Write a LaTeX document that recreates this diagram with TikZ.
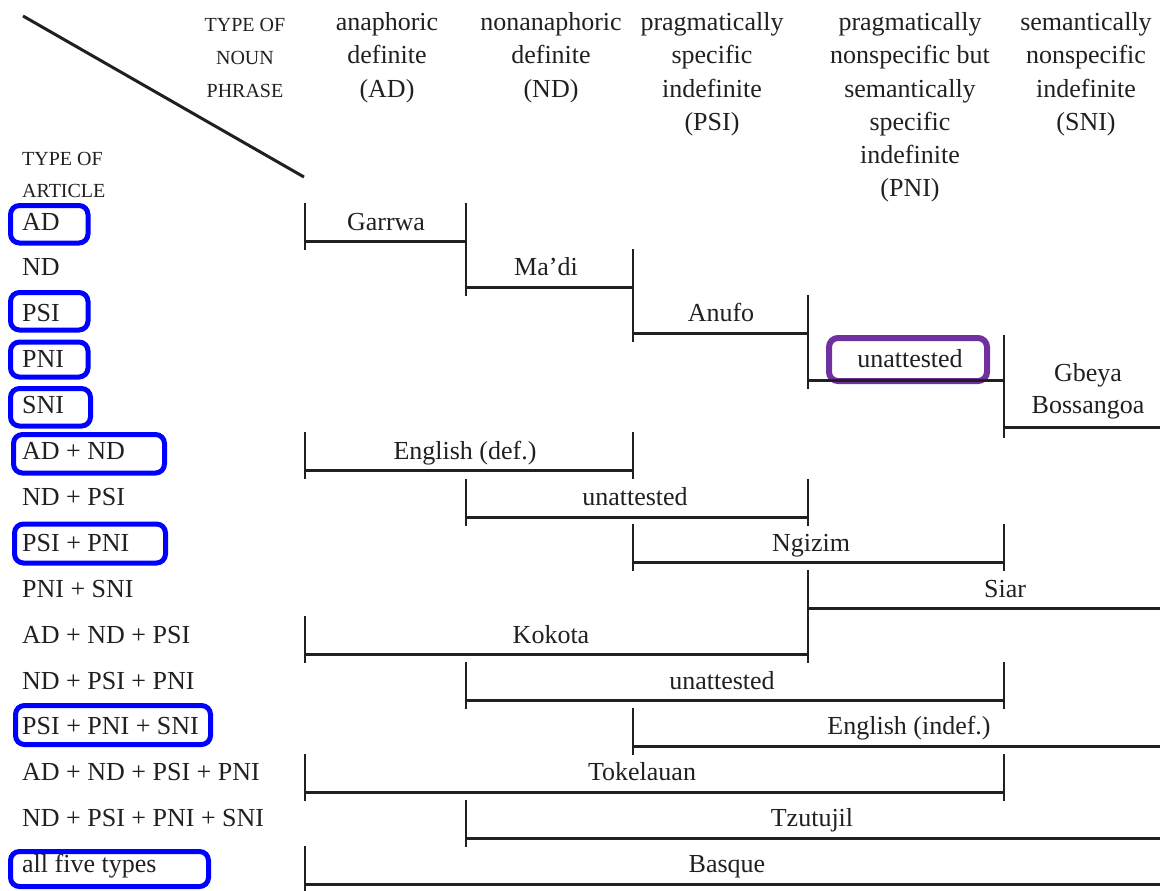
\documentclass[tikz,border=0pt]{standalone}
\usepackage{fontspec}
\setmainfont{Liberation Serif}
\definecolor{ink}{HTML}{231F20}
\definecolor{boxblue}{HTML}{0000FF}
\definecolor{boxpurple}{HTML}{7030A0}
\newcommand\mybracket[3]{% xL, xR, baseline y
  \draw[brk] (#1,#3+11.5) -- (#2,#3+11.5);
  \draw[tick] (#1,#3-27) -- (#1,#3+20);
  \ifdim #2pt<1159pt \draw[tick] (#2,#3-27) -- (#2,#3+20);\fi
}
\begin{document}
\begin{tikzpicture}[x=1pt,y=-1pt,
  lbl/.style={anchor=base west, font=\fontsize{26}{30}\selectfont, inner sep=0pt, text=ink},
  txt/.style={anchor=base, font=\fontsize{26}{30}\selectfont, inner sep=0pt, text=ink},
  caps/.style={font=\fontsize{20}{24}\selectfont, inner sep=0pt, text=ink},
  brk/.style={line width=3pt, draw=ink},
  tick/.style={line width=2pt, draw=ink},
  bluebox/.style={draw=boxblue, line width=5pt, rounded corners=9pt},
  purplebox/.style={draw=boxpurple, line width=6pt, rounded corners=9pt, fill=white}
]
\useasboundingbox (0,0) rectangle (1160,891);
\clip (0,0) rectangle (1160,891);

% diagonal
\coordinate (dA) at (23,16);
\coordinate (dB) at (304,177);
\draw[line width=3pt, draw=ink] (dA) -- (dB);

% corner headers
\node[caps, anchor=base] (np1) at (245,32) {TYPE OF};
\node[caps, anchor=base] (np2) at (245,65) {NOUN};
\node[caps, anchor=base] (np3) at (245,98) {PHRASE};
\node[caps, anchor=base west] (ar1) at (22,165) {TYPE OF};
\node[caps, anchor=base west] (ar2) at (22,197) {ARTICLE};

% column headers
\foreach \t [count=\i] in {anaphoric, definite, {(AD)}}
  \node[txt] (hAD\i) at (387,31+33*\i-33) {\t};
\foreach \t [count=\i] in {nonanaphoric, definite, {(ND)}}
  \node[txt] (hND\i) at (551,31+33*\i-33) {\t};
\foreach \t [count=\i] in {pragmatically, specific, indefinite, {(PSI)}}
  \node[txt] (hPSI\i) at (712,31+33*\i-33) {\t};
\foreach \t [count=\i] in {pragmatically, nonspecific but, semantically, specific, indefinite, {(PNI)}}
  \node[txt] (hPNI\i) at (910,31+33*\i-33) {\t};
\foreach \t [count=\i] in {semantically, nonspecific, indefinite, {(SNI)}}
  \node[txt] (hSNI\i) at (1086,31+33*\i-33) {\t};

% blue boxes
\draw[bluebox] (10.5,205.5) rectangle (88,243);
\draw[bluebox] (10.5,292.5) rectangle (88,330);
\draw[bluebox] (10.5,342) rectangle (88,377);
\draw[bluebox] (10.5,388.5) rectangle (90.5,426);
\draw[bluebox] (13.5,434.5) rectangle (164.5,473);
\draw[bluebox] (14.5,524) rectangle (165.5,563);
\draw[bluebox] (15.5,705.5) rectangle (210.5,744.5);
\draw[bluebox] (10.5,851.5) rectangle (208.5,886.5);

% row labels
\foreach \t [count=\i from 0] in {AD, ND, PSI, PNI, SNI, AD + ND, ND + PSI, PSI + PNI, PNI + SNI, AD + ND + PSI, ND + PSI + PNI, PSI + PNI + SNI, AD + ND + PSI + PNI, ND + PSI + PNI + SNI, all five types}
  \node[lbl] (row\i) at (22,230+45.9*\i) {\t};

% purple box
\draw[purplebox] (829,338) rectangle (987,381);

% brackets
\mybracket{305}{466}{230}
\mybracket{466}{633}{276}
\mybracket{633}{808}{322}
\mybracket{808}{1004}{369}
\draw[brk] (1004,427.5) -- (1160,427.5);
\draw[tick] (1004,335) -- (1004,438);
\mybracket{305}{633}{459}
\mybracket{466}{808}{506}
\mybracket{633}{1004}{551}
\mybracket{808}{1160}{597}
\mybracket{305}{808}{643}
\mybracket{466}{1004}{689}
\mybracket{633}{1160}{735}
\mybracket{305}{1004}{781}
\mybracket{466}{1160}{827}
\mybracket{305}{1160}{873}

% bracket labels
\node[txt] (lGarrwa) at (386,230) {Garrwa};
\node[txt] (lMadi) at (546,275.9) {Ma’di};
\node[txt] (lAnufo) at (721,321.8) {Anufo};
\node[txt] (lUnA) at (910,367.7) {unattested};
\node[txt] (lGbeya) at (1088,381) {Gbeya};
\node[txt] (lBoss) at (1088,413.6) {Bossangoa};
\node[txt] (lEngDef) at (465,459.5) {English (def.)};
\node[txt] (lUnB) at (635,505.4) {unattested};
\node[txt] (lNgizim) at (811,551.3) {Ngizim};
\node[txt] (lSiar) at (1005,597.2) {Siar};
\node[txt] (lKokota) at (551,643.1) {Kokota};
\node[txt] (lUnC) at (722,689) {unattested};
\node[txt] (lEngIndef) at (909,734.9) {English (indef.)};
\node[txt] (lTok) at (642,780.8) {Tokelauan};
\node[txt] (lTzu) at (812,826.7) {Tzutujil};
\node[txt] (lBasque) at (727,872.6) {Basque};
\end{tikzpicture}
\end{document}
